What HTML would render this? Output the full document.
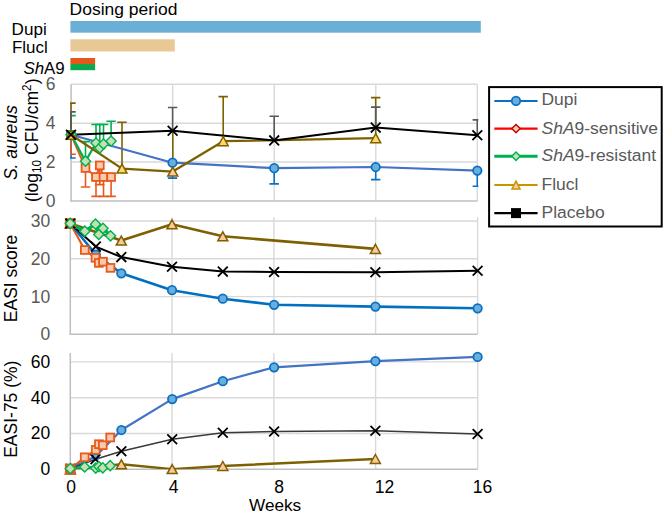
<!DOCTYPE html>
<html><head><meta charset="utf-8"><style>
html,body{margin:0;padding:0;background:#fff;overflow:hidden;}
svg{display:block;}
text{font-family:"Liberation Sans", sans-serif;font-size:17.5px;}
</style></head><body>
<svg width="666" height="517" viewBox="0 0 666 517">
<rect width="666" height="517" fill="#fff"/>
<defs>
<clipPath id="c1"><rect x="70.1" y="64.2" width="408.20000000000005" height="136.7"/></clipPath>
<clipPath id="c2"><rect x="69.3" y="197.2" width="409.3" height="137.0"/></clipPath>
<clipPath id="c3"><rect x="69.3" y="333.0" width="409.4" height="136.2"/></clipPath>
</defs>
<line x1="71.1" y1="84.2" x2="477.3" y2="84.2" stroke="#D9D9D9" stroke-width="1.4"/>
<line x1="71.1" y1="123.2" x2="477.3" y2="123.2" stroke="#D9D9D9" stroke-width="1.4"/>
<line x1="71.1" y1="162.0" x2="477.3" y2="162.0" stroke="#D9D9D9" stroke-width="1.4"/>
<line x1="172.7" y1="84.2" x2="172.7" y2="200.9" stroke="#D9D9D9" stroke-width="1.4"/>
<line x1="274.2" y1="84.2" x2="274.2" y2="200.9" stroke="#D9D9D9" stroke-width="1.4"/>
<line x1="375.8" y1="84.2" x2="375.8" y2="200.9" stroke="#D9D9D9" stroke-width="1.4"/>
<line x1="477.3" y1="84.2" x2="477.3" y2="200.9" stroke="#D9D9D9" stroke-width="1.4"/>
<line x1="71.1" y1="84.2" x2="71.1" y2="201.6" stroke="#BFBFBF" stroke-width="1.5"/>
<line x1="70.39999999999999" y1="200.9" x2="477.3" y2="200.9" stroke="#BFBFBF" stroke-width="1.5"/>
<text x="55.4" y="90.1" text-anchor="end" fill="#595959">6</text>
<text x="55.4" y="129.1" text-anchor="end" fill="#595959">4</text>
<text x="55.4" y="167.9" text-anchor="end" fill="#595959">2</text>
<text x="55.4" y="206.8" text-anchor="end" fill="#595959">0</text>
<line x1="70.3" y1="221.0" x2="477.6" y2="221.0" stroke="#D9D9D9" stroke-width="1.4"/>
<line x1="70.3" y1="258.8" x2="477.6" y2="258.8" stroke="#D9D9D9" stroke-width="1.4"/>
<line x1="70.3" y1="296.6" x2="477.6" y2="296.6" stroke="#D9D9D9" stroke-width="1.4"/>
<line x1="172.0" y1="217.2" x2="172.0" y2="334.2" stroke="#D9D9D9" stroke-width="1.4"/>
<line x1="273.9" y1="217.2" x2="273.9" y2="334.2" stroke="#D9D9D9" stroke-width="1.4"/>
<line x1="375.6" y1="217.2" x2="375.6" y2="334.2" stroke="#D9D9D9" stroke-width="1.4"/>
<line x1="477.6" y1="217.2" x2="477.6" y2="334.2" stroke="#D9D9D9" stroke-width="1.4"/>
<line x1="70.3" y1="217.2" x2="70.3" y2="334.9" stroke="#BFBFBF" stroke-width="1.5"/>
<line x1="69.6" y1="334.2" x2="477.6" y2="334.2" stroke="#BFBFBF" stroke-width="1.5"/>
<text x="50.3" y="226.9" text-anchor="end" fill="#595959">30</text>
<text x="50.3" y="264.7" text-anchor="end" fill="#595959">20</text>
<text x="50.3" y="302.5" text-anchor="end" fill="#595959">10</text>
<text x="50.3" y="340.1" text-anchor="end" fill="#595959">0</text>
<line x1="70.3" y1="361.9" x2="477.7" y2="361.9" stroke="#D9D9D9" stroke-width="1.4"/>
<line x1="70.3" y1="397.7" x2="477.7" y2="397.7" stroke="#D9D9D9" stroke-width="1.4"/>
<line x1="70.3" y1="433.5" x2="477.7" y2="433.5" stroke="#D9D9D9" stroke-width="1.4"/>
<line x1="172.0" y1="353.0" x2="172.0" y2="469.2" stroke="#D9D9D9" stroke-width="1.4"/>
<line x1="273.9" y1="353.0" x2="273.9" y2="469.2" stroke="#D9D9D9" stroke-width="1.4"/>
<line x1="375.6" y1="353.0" x2="375.6" y2="469.2" stroke="#D9D9D9" stroke-width="1.4"/>
<line x1="477.7" y1="353.0" x2="477.7" y2="469.2" stroke="#D9D9D9" stroke-width="1.4"/>
<line x1="70.3" y1="353.0" x2="70.3" y2="469.9" stroke="#BFBFBF" stroke-width="1.5"/>
<line x1="69.6" y1="469.2" x2="477.7" y2="469.2" stroke="#BFBFBF" stroke-width="1.5"/>
<text x="50.3" y="367.8" text-anchor="end" fill="#000">60</text>
<text x="50.3" y="403.6" text-anchor="end" fill="#000">40</text>
<text x="50.3" y="439.4" text-anchor="end" fill="#000">20</text>
<text x="50.3" y="475.1" text-anchor="end" fill="#000">0</text>
<g clip-path="url(#c1)">
<line x1="71.00" y1="134.80" x2="71.00" y2="158.00" stroke="#0A70C4" stroke-width="1.6"/><line x1="66.30" y1="158.00" x2="75.70" y2="158.00" stroke="#0A70C4" stroke-width="1.6"/>
<line x1="172.50" y1="162.70" x2="172.50" y2="178.10" stroke="#0A70C4" stroke-width="1.6"/><line x1="167.80" y1="178.10" x2="177.20" y2="178.10" stroke="#0A70C4" stroke-width="1.6"/>
<line x1="274.20" y1="168.20" x2="274.20" y2="183.90" stroke="#0A70C4" stroke-width="1.6"/><line x1="269.50" y1="183.90" x2="278.90" y2="183.90" stroke="#0A70C4" stroke-width="1.6"/>
<line x1="375.70" y1="167.00" x2="375.70" y2="179.60" stroke="#0A70C4" stroke-width="1.6"/><line x1="371.00" y1="179.60" x2="380.40" y2="179.60" stroke="#0A70C4" stroke-width="1.6"/>
<line x1="477.30" y1="170.60" x2="477.30" y2="186.30" stroke="#0A70C4" stroke-width="1.6"/><line x1="472.60" y1="186.30" x2="482.00" y2="186.30" stroke="#0A70C4" stroke-width="1.6"/>
<line x1="71.10" y1="134.80" x2="71.10" y2="154.20" stroke="#E85A1B" stroke-width="1.6"/><line x1="66.40" y1="154.20" x2="75.80" y2="154.20" stroke="#E85A1B" stroke-width="1.6"/>
<line x1="85.50" y1="168.00" x2="85.50" y2="187.00" stroke="#E85A1B" stroke-width="1.6"/><line x1="80.80" y1="187.00" x2="90.20" y2="187.00" stroke="#E85A1B" stroke-width="1.6"/>
<line x1="96.00" y1="177.00" x2="96.00" y2="196.40" stroke="#E85A1B" stroke-width="1.6"/><line x1="91.30" y1="196.40" x2="100.70" y2="196.40" stroke="#E85A1B" stroke-width="1.6"/>
<line x1="99.80" y1="165.40" x2="99.80" y2="184.60" stroke="#E85A1B" stroke-width="1.6"/><line x1="95.10" y1="184.60" x2="104.50" y2="184.60" stroke="#E85A1B" stroke-width="1.6"/>
<line x1="103.50" y1="177.00" x2="103.50" y2="196.40" stroke="#E85A1B" stroke-width="1.6"/><line x1="98.80" y1="196.40" x2="108.20" y2="196.40" stroke="#E85A1B" stroke-width="1.6"/>
<line x1="111.10" y1="177.00" x2="111.10" y2="196.40" stroke="#E85A1B" stroke-width="1.6"/><line x1="106.40" y1="196.40" x2="115.80" y2="196.40" stroke="#E85A1B" stroke-width="1.6"/>
<line x1="71.10" y1="134.80" x2="71.10" y2="115.60" stroke="#00B050" stroke-width="1.6"/><line x1="66.40" y1="115.60" x2="75.80" y2="115.60" stroke="#00B050" stroke-width="1.6"/>
<line x1="85.50" y1="161.20" x2="85.50" y2="141.60" stroke="#00B050" stroke-width="1.6"/><line x1="80.80" y1="141.60" x2="90.20" y2="141.60" stroke="#00B050" stroke-width="1.6"/>
<line x1="96.00" y1="143.00" x2="96.00" y2="124.50" stroke="#00B050" stroke-width="1.6"/><line x1="91.30" y1="124.50" x2="100.70" y2="124.50" stroke="#00B050" stroke-width="1.6"/>
<line x1="99.80" y1="147.90" x2="99.80" y2="124.50" stroke="#00B050" stroke-width="1.6"/><line x1="95.10" y1="124.50" x2="104.50" y2="124.50" stroke="#00B050" stroke-width="1.6"/>
<line x1="103.50" y1="144.00" x2="103.50" y2="124.50" stroke="#00B050" stroke-width="1.6"/><line x1="98.80" y1="124.50" x2="108.20" y2="124.50" stroke="#00B050" stroke-width="1.6"/>
<line x1="111.10" y1="141.10" x2="111.10" y2="121.20" stroke="#00B050" stroke-width="1.6"/><line x1="106.40" y1="121.20" x2="115.80" y2="121.20" stroke="#00B050" stroke-width="1.6"/>
<line x1="71.00" y1="134.80" x2="71.00" y2="103.10" stroke="#7F6000" stroke-width="1.6"/><line x1="66.30" y1="103.10" x2="75.70" y2="103.10" stroke="#7F6000" stroke-width="1.6"/>
<line x1="122.00" y1="168.60" x2="122.00" y2="122.30" stroke="#7F6000" stroke-width="1.6"/><line x1="117.30" y1="122.30" x2="126.70" y2="122.30" stroke="#7F6000" stroke-width="1.6"/>
<line x1="172.80" y1="171.60" x2="172.80" y2="131.00" stroke="#7F6000" stroke-width="1.6"/><line x1="168.10" y1="131.00" x2="177.50" y2="131.00" stroke="#7F6000" stroke-width="1.6"/>
<line x1="223.20" y1="141.20" x2="223.20" y2="96.60" stroke="#7F6000" stroke-width="1.6"/><line x1="218.50" y1="96.60" x2="227.90" y2="96.60" stroke="#7F6000" stroke-width="1.6"/>
<line x1="375.70" y1="138.20" x2="375.70" y2="97.60" stroke="#7F6000" stroke-width="1.6"/><line x1="371.00" y1="97.60" x2="380.40" y2="97.60" stroke="#7F6000" stroke-width="1.6"/>
<line x1="71.00" y1="134.80" x2="71.00" y2="111.90" stroke="#595959" stroke-width="1.6"/><line x1="66.30" y1="111.90" x2="75.70" y2="111.90" stroke="#595959" stroke-width="1.6"/>
<line x1="172.60" y1="130.70" x2="172.60" y2="107.50" stroke="#595959" stroke-width="1.6"/><line x1="167.90" y1="107.50" x2="177.30" y2="107.50" stroke="#595959" stroke-width="1.6"/>
<line x1="274.20" y1="140.40" x2="274.20" y2="116.30" stroke="#595959" stroke-width="1.6"/><line x1="269.50" y1="116.30" x2="278.90" y2="116.30" stroke="#595959" stroke-width="1.6"/>
<line x1="375.70" y1="127.60" x2="375.70" y2="107.10" stroke="#595959" stroke-width="1.6"/><line x1="371.00" y1="107.10" x2="380.40" y2="107.10" stroke="#595959" stroke-width="1.6"/>
<line x1="477.30" y1="135.30" x2="477.30" y2="119.90" stroke="#595959" stroke-width="1.6"/><line x1="472.60" y1="119.90" x2="482.00" y2="119.90" stroke="#595959" stroke-width="1.6"/>
<path d="M71.10 134.80L85.50 168.00L96.00 177.00L99.80 165.40L103.50 177.00L111.10 177.00" fill="none" stroke="#E85A1B" stroke-width="2" stroke-linejoin="round"/>
<path d="M71.00 134.80L172.50 162.70L274.20 168.20L375.70 167.00L477.30 170.60" fill="none" stroke="#4472C4" stroke-width="2.2" stroke-linejoin="round"/>
<path d="M71.10 134.80L85.50 161.20L96.00 143.00L99.80 147.90L103.50 144.00L111.10 141.10" fill="none" stroke="#00B050" stroke-width="2.3" stroke-linejoin="round"/>
<path d="M71.00 134.80L122.00 168.60L172.80 171.60L223.20 141.20L375.70 138.20" fill="none" stroke="#7F6000" stroke-width="2.3" stroke-linejoin="round"/>
<path d="M71.00 134.80L172.60 130.70L274.20 140.40L375.70 127.60L477.30 135.30" fill="none" stroke="#000" stroke-width="2" stroke-linejoin="round"/>
</g>
<rect x="81.60" y="164.10" width="7.80" height="7.80" fill="#F8CBAD" stroke="#E85A1B" stroke-width="1.8"/>
<rect x="92.10" y="173.10" width="7.80" height="7.80" fill="#F8CBAD" stroke="#E85A1B" stroke-width="1.8"/>
<rect x="95.90" y="161.50" width="7.80" height="7.80" fill="#F8CBAD" stroke="#E85A1B" stroke-width="1.8"/>
<rect x="99.60" y="173.10" width="7.80" height="7.80" fill="#F8CBAD" stroke="#E85A1B" stroke-width="1.8"/>
<rect x="107.20" y="173.10" width="7.80" height="7.80" fill="#F8CBAD" stroke="#E85A1B" stroke-width="1.8"/>
<rect x="67.20" y="130.90" width="7.80" height="7.80" fill="#F8CBAD" stroke="#E85A1B" stroke-width="1.8"/>
<circle cx="71.0" cy="134.8" r="4.25" fill="#6AAEDB" stroke="#0A70C4" stroke-width="1.75"/>
<circle cx="172.5" cy="162.7" r="4.25" fill="#6AAEDB" stroke="#0A70C4" stroke-width="1.75"/>
<circle cx="274.2" cy="168.2" r="4.25" fill="#6AAEDB" stroke="#0A70C4" stroke-width="1.75"/>
<circle cx="375.7" cy="167.0" r="4.25" fill="#6AAEDB" stroke="#0A70C4" stroke-width="1.75"/>
<circle cx="477.3" cy="170.6" r="4.25" fill="#6AAEDB" stroke="#0A70C4" stroke-width="1.75"/>
<path d="M71.10 129.70L76.20 134.80L71.10 139.90L66.00 134.80Z" fill="#C5E0B4" stroke="#00B050" stroke-width="1.4"/>
<path d="M85.50 156.10L90.60 161.20L85.50 166.30L80.40 161.20Z" fill="#C5E0B4" stroke="#00B050" stroke-width="1.4"/>
<path d="M96.00 137.90L101.10 143.00L96.00 148.10L90.90 143.00Z" fill="#C5E0B4" stroke="#00B050" stroke-width="1.4"/>
<path d="M99.80 142.80L104.90 147.90L99.80 153.00L94.70 147.90Z" fill="#C5E0B4" stroke="#00B050" stroke-width="1.4"/>
<path d="M103.50 138.90L108.60 144.00L103.50 149.10L98.40 144.00Z" fill="#C5E0B4" stroke="#00B050" stroke-width="1.4"/>
<path d="M111.10 136.00L116.20 141.10L111.10 146.20L106.00 141.10Z" fill="#C5E0B4" stroke="#00B050" stroke-width="1.4"/>
<path d="M71.00 130.30L76.00 139.30L66.00 139.30Z" fill="#FFD966" stroke="#7F6000" stroke-width="1.5" stroke-linejoin="miter"/>
<path d="M122.00 164.10L127.00 173.10L117.00 173.10Z" fill="#FFD966" stroke="#7F6000" stroke-width="1.5" stroke-linejoin="miter"/>
<path d="M172.80 167.10L177.80 176.10L167.80 176.10Z" fill="#F9C99C" stroke="#7F6000" stroke-width="1.5" stroke-linejoin="miter"/>
<path d="M223.20 136.70L228.20 145.70L218.20 145.70Z" fill="#FFD966" stroke="#7F6000" stroke-width="1.5" stroke-linejoin="miter"/>
<path d="M375.70 133.70L380.70 142.70L370.70 142.70Z" fill="#FFD966" stroke="#7F6000" stroke-width="1.5" stroke-linejoin="miter"/>
<path d="M66.10 129.90L75.90 139.70M66.10 139.70L75.90 129.90" stroke="#000" stroke-width="1.8" fill="none"/>
<path d="M167.70 125.80L177.50 135.60M167.70 135.60L177.50 125.80" stroke="#000" stroke-width="1.8" fill="none"/>
<path d="M269.30 135.50L279.10 145.30M269.30 145.30L279.10 135.50" stroke="#000" stroke-width="1.8" fill="none"/>
<path d="M370.80 122.70L380.60 132.50M370.80 132.50L380.60 122.70" stroke="#000" stroke-width="1.8" fill="none"/>
<path d="M472.40 130.40L482.20 140.20M472.40 140.20L482.20 130.40" stroke="#000" stroke-width="1.8" fill="none"/>
<g clip-path="url(#c2)">
<path d="M70.30 223.50L84.80 250.00L95.50 257.80L98.80 262.90L103.00 261.70L110.50 267.90" fill="none" stroke="#E85A1B" stroke-width="2.2" stroke-linejoin="round"/>
<path d="M70.30 223.50L95.80 254.50L121.30 273.30L172.00 290.20L222.80 298.70L274.10 304.80L375.40 306.60L477.60 308.30" fill="none" stroke="#0070C0" stroke-width="2.6" stroke-linejoin="round"/>
<path d="M70.30 223.50L95.80 246.60L121.30 257.10L172.00 266.80L222.80 271.60L274.10 272.00L375.40 272.30L477.60 270.70" fill="none" stroke="#000" stroke-width="2" stroke-linejoin="round"/>
<path d="M70.30 223.50L121.30 240.60L172.00 224.30L222.80 236.30L375.40 248.90" fill="none" stroke="#7F6000" stroke-width="2.6" stroke-linejoin="round"/>
<path d="M70.30 223.50L84.80 231.20L95.50 224.20L98.80 234.50L103.00 228.30L110.50 235.80" fill="none" stroke="#00B050" stroke-width="3.4" stroke-linejoin="round"/>
</g>
<circle cx="70.3" cy="223.5" r="4.25" fill="#6AAEDB" stroke="#0A70C4" stroke-width="1.75"/>
<circle cx="95.8" cy="254.5" r="4.25" fill="#6AAEDB" stroke="#0A70C4" stroke-width="1.75"/>
<circle cx="121.3" cy="273.3" r="4.25" fill="#6AAEDB" stroke="#0A70C4" stroke-width="1.75"/>
<circle cx="172.0" cy="290.2" r="4.25" fill="#6AAEDB" stroke="#0A70C4" stroke-width="1.75"/>
<circle cx="222.8" cy="298.7" r="4.25" fill="#6AAEDB" stroke="#0A70C4" stroke-width="1.75"/>
<circle cx="274.1" cy="304.8" r="4.25" fill="#6AAEDB" stroke="#0A70C4" stroke-width="1.75"/>
<circle cx="375.4" cy="306.6" r="4.25" fill="#6AAEDB" stroke="#0A70C4" stroke-width="1.75"/>
<circle cx="477.6" cy="308.3" r="4.25" fill="#6AAEDB" stroke="#0A70C4" stroke-width="1.75"/>
<path d="M70.30 219.00L75.30 228.00L65.30 228.00Z" fill="#F9C99C" stroke="#7F6000" stroke-width="1.5" stroke-linejoin="miter"/>
<path d="M121.30 236.10L126.30 245.10L116.30 245.10Z" fill="#F9C99C" stroke="#7F6000" stroke-width="1.5" stroke-linejoin="miter"/>
<path d="M172.00 219.80L177.00 228.80L167.00 228.80Z" fill="#F9C99C" stroke="#7F6000" stroke-width="1.5" stroke-linejoin="miter"/>
<path d="M222.80 231.80L227.80 240.80L217.80 240.80Z" fill="#F9C99C" stroke="#7F6000" stroke-width="1.5" stroke-linejoin="miter"/>
<path d="M375.40 244.40L380.40 253.40L370.40 253.40Z" fill="#F9C99C" stroke="#7F6000" stroke-width="1.5" stroke-linejoin="miter"/>
<rect x="65.80" y="219.10" width="9.00" height="9.00" fill="#E85A1B" stroke="#E85A1B" stroke-width="1.8"/>
<rect x="80.90" y="246.10" width="7.80" height="7.80" fill="#F8CBAD" stroke="#E85A1B" stroke-width="1.8"/>
<rect x="91.60" y="253.90" width="7.80" height="7.80" fill="#F8CBAD" stroke="#E85A1B" stroke-width="1.8"/>
<rect x="94.90" y="259.00" width="7.80" height="7.80" fill="#F8CBAD" stroke="#E85A1B" stroke-width="1.8"/>
<rect x="99.10" y="257.80" width="7.80" height="7.80" fill="#F8CBAD" stroke="#E85A1B" stroke-width="1.8"/>
<rect x="106.60" y="264.00" width="7.80" height="7.80" fill="#F8CBAD" stroke="#E85A1B" stroke-width="1.8"/>
<path d="M65.40 218.60L75.20 228.40M65.40 228.40L75.20 218.60" stroke="#000" stroke-width="1.8" fill="none"/>
<path d="M90.90 241.70L100.70 251.50M90.90 251.50L100.70 241.70" stroke="#000" stroke-width="1.8" fill="none"/>
<path d="M116.40 252.20L126.20 262.00M116.40 262.00L126.20 252.20" stroke="#000" stroke-width="1.8" fill="none"/>
<path d="M167.10 261.90L176.90 271.70M167.10 271.70L176.90 261.90" stroke="#000" stroke-width="1.8" fill="none"/>
<path d="M217.90 266.70L227.70 276.50M217.90 276.50L227.70 266.70" stroke="#000" stroke-width="1.8" fill="none"/>
<path d="M269.20 267.10L279.00 276.90M269.20 276.90L279.00 267.10" stroke="#000" stroke-width="1.8" fill="none"/>
<path d="M370.50 267.40L380.30 277.20M370.50 277.20L380.30 267.40" stroke="#000" stroke-width="1.8" fill="none"/>
<path d="M472.70 265.80L482.50 275.60M472.70 275.60L482.50 265.80" stroke="#000" stroke-width="1.8" fill="none"/>
<path d="M70.30 218.40L75.40 223.50L70.30 228.60L65.20 223.50Z" fill="#C5E0B4" stroke="#00B050" stroke-width="1.4"/>
<path d="M84.80 226.10L89.90 231.20L84.80 236.30L79.70 231.20Z" fill="#C5E0B4" stroke="#00B050" stroke-width="1.4"/>
<path d="M95.50 219.10L100.60 224.20L95.50 229.30L90.40 224.20Z" fill="#C5E0B4" stroke="#00B050" stroke-width="1.4"/>
<path d="M98.80 229.40L103.90 234.50L98.80 239.60L93.70 234.50Z" fill="#C5E0B4" stroke="#00B050" stroke-width="1.4"/>
<path d="M103.00 223.20L108.10 228.30L103.00 233.40L97.90 228.30Z" fill="#C5E0B4" stroke="#00B050" stroke-width="1.4"/>
<path d="M110.50 230.70L115.60 235.80L110.50 240.90L105.40 235.80Z" fill="#C5E0B4" stroke="#00B050" stroke-width="1.4"/>
<g clip-path="url(#c3)">
<path d="M70.30 469.20L84.70 457.30L95.70 449.90L98.90 444.20L102.80 445.20L110.20 437.50" fill="none" stroke="#E85A1B" stroke-width="2.2" stroke-linejoin="round"/>
<path d="M70.40 468.60L95.50 456.60L121.40 430.00L172.20 399.10L222.80 381.20L274.10 367.30L375.40 361.20L477.60 356.90" fill="none" stroke="#4472C4" stroke-width="2.2" stroke-linejoin="round"/>
<path d="M70.40 468.80L95.50 459.30L121.40 451.20L172.20 439.30L222.80 432.80L274.10 431.50L375.40 430.80L477.60 434.00" fill="none" stroke="#3A3A3A" stroke-width="1.6" stroke-linejoin="round"/>
<path d="M70.40 469.60L121.40 464.30L172.20 469.10L222.80 466.00L375.40 459.00" fill="none" stroke="#7F6000" stroke-width="2.4" stroke-linejoin="round"/>
<path d="M70.30 468.60L84.70 467.00L95.70 468.10L98.90 466.60L102.80 467.80L110.20 465.70" fill="none" stroke="#00B050" stroke-width="2.4" stroke-linejoin="round"/>
</g>
<circle cx="70.4" cy="468.6" r="4.25" fill="#6AAEDB" stroke="#0A70C4" stroke-width="1.75"/>
<circle cx="95.5" cy="456.6" r="3.0" fill="#6AAEDB" stroke="#0A70C4" stroke-width="1.75"/>
<circle cx="121.4" cy="430.0" r="4.25" fill="#6AAEDB" stroke="#0A70C4" stroke-width="1.75"/>
<circle cx="172.2" cy="399.1" r="4.25" fill="#6AAEDB" stroke="#0A70C4" stroke-width="1.75"/>
<circle cx="222.8" cy="381.2" r="4.25" fill="#6AAEDB" stroke="#0A70C4" stroke-width="1.75"/>
<circle cx="274.1" cy="367.3" r="4.25" fill="#6AAEDB" stroke="#0A70C4" stroke-width="1.75"/>
<circle cx="375.4" cy="361.2" r="4.25" fill="#6AAEDB" stroke="#0A70C4" stroke-width="1.75"/>
<circle cx="477.6" cy="356.9" r="4.25" fill="#6AAEDB" stroke="#0A70C4" stroke-width="1.75"/>
<path d="M65.50 463.90L75.30 473.70M65.50 473.70L75.30 463.90" stroke="#000" stroke-width="1.8" fill="none"/>
<path d="M90.60 454.40L100.40 464.20M90.60 464.20L100.40 454.40" stroke="#000" stroke-width="1.8" fill="none"/>
<path d="M116.50 446.30L126.30 456.10M116.50 456.10L126.30 446.30" stroke="#000" stroke-width="1.8" fill="none"/>
<path d="M167.30 434.40L177.10 444.20M167.30 444.20L177.10 434.40" stroke="#000" stroke-width="1.8" fill="none"/>
<path d="M217.90 427.90L227.70 437.70M217.90 437.70L227.70 427.90" stroke="#000" stroke-width="1.8" fill="none"/>
<path d="M269.20 426.60L279.00 436.40M269.20 436.40L279.00 426.60" stroke="#000" stroke-width="1.8" fill="none"/>
<path d="M370.50 425.90L380.30 435.70M370.50 435.70L380.30 425.90" stroke="#000" stroke-width="1.8" fill="none"/>
<path d="M472.70 429.10L482.50 438.90M472.70 438.90L482.50 429.10" stroke="#000" stroke-width="1.8" fill="none"/>
<path d="M70.40 465.10L75.40 474.10L65.40 474.10Z" fill="#F9C99C" stroke="#7F6000" stroke-width="1.5" stroke-linejoin="miter"/>
<path d="M121.40 459.80L126.40 468.80L116.40 468.80Z" fill="#F9C99C" stroke="#7F6000" stroke-width="1.5" stroke-linejoin="miter"/>
<path d="M172.20 464.60L177.20 473.60L167.20 473.60Z" fill="#F9C99C" stroke="#7F6000" stroke-width="1.5" stroke-linejoin="miter"/>
<path d="M222.80 461.50L227.80 470.50L217.80 470.50Z" fill="#F9C99C" stroke="#7F6000" stroke-width="1.5" stroke-linejoin="miter"/>
<path d="M375.40 454.50L380.40 463.50L370.40 463.50Z" fill="#F9C99C" stroke="#7F6000" stroke-width="1.5" stroke-linejoin="miter"/>
<rect x="80.80" y="453.40" width="7.80" height="7.80" fill="#F8CBAD" stroke="#E85A1B" stroke-width="1.8"/>
<rect x="91.80" y="446.00" width="7.80" height="7.80" fill="#F8CBAD" stroke="#E85A1B" stroke-width="1.8"/>
<rect x="95.00" y="440.30" width="7.80" height="7.80" fill="#F8CBAD" stroke="#E85A1B" stroke-width="1.8"/>
<rect x="98.90" y="441.30" width="7.80" height="7.80" fill="#F8CBAD" stroke="#E85A1B" stroke-width="1.8"/>
<rect x="106.30" y="433.60" width="7.80" height="7.80" fill="#F8CBAD" stroke="#E85A1B" stroke-width="1.8"/>
<rect x="65.80" y="464.55" width="9.00" height="9.00" fill="#E85A1B" stroke="#E85A1B" stroke-width="1.8"/>
<path d="M70.30 463.50L75.40 468.60L70.30 473.70L65.20 468.60Z" fill="#C5E0B4" stroke="#00B050" stroke-width="1.4"/>
<path d="M84.70 461.90L89.80 467.00L84.70 472.10L79.60 467.00Z" fill="#C5E0B4" stroke="#00B050" stroke-width="1.4"/>
<path d="M95.70 463.00L100.80 468.10L95.70 473.20L90.60 468.10Z" fill="#C5E0B4" stroke="#00B050" stroke-width="1.4"/>
<path d="M98.90 461.50L104.00 466.60L98.90 471.70L93.80 466.60Z" fill="#C5E0B4" stroke="#00B050" stroke-width="1.4"/>
<path d="M102.80 462.70L107.90 467.80L102.80 472.90L97.70 467.80Z" fill="#C5E0B4" stroke="#00B050" stroke-width="1.4"/>
<path d="M110.20 460.60L115.30 465.70L110.20 470.80L105.10 465.70Z" fill="#C5E0B4" stroke="#00B050" stroke-width="1.4"/>
<rect x="70.4" y="21" width="410.4" height="11.7" fill="#6BAED6"/>
<rect x="70.4" y="39.3" width="104.4" height="12.2" fill="#E8C995"/>
<rect x="70.4" y="58" width="24.7" height="6" fill="#E8561A"/>
<rect x="70.4" y="64" width="24.7" height="6.2" fill="#0BAA4E"/>
<text transform="translate(69.6 15.1) scale(1 0.93)" text-anchor="start" fill="#000" >Dosing period</text>
<text transform="translate(11.6 34.7) scale(1 0.93)" text-anchor="start" fill="#000" style="font-size:17.1px">Dupi</text>
<text transform="translate(11.9 52.8) scale(1 0.93)" text-anchor="start" fill="#000" style="font-size:17.0px">Flucl</text>
<text transform="translate(23.4 73.7) scale(1 1.0)" text-anchor="start" fill="#000" style="font-size:16.9px"><tspan font-style="italic">Sh</tspan>A9</text>
<text x="71.2" y="493.2" text-anchor="middle" fill="#000">0</text>
<text x="173.5" y="493.2" text-anchor="middle" fill="#000">4</text>
<text x="279" y="493.2" text-anchor="middle" fill="#000">8</text>
<text x="384.5" y="493.2" text-anchor="middle" fill="#000">12</text>
<text x="482.4" y="493.2" text-anchor="middle" fill="#000">16</text>
<text transform="translate(275.1 511.3) scale(1 0.96)" text-anchor="middle" fill="#000" style="font-size:17.2px">Weeks</text>
<text transform="translate(17.2 142.7) rotate(-90) scale(1 1.03)" text-anchor="middle" fill="#000" style="font-style:italic">S. aureus</text>
<text transform="translate(37.6 140.3) rotate(-90) scale(1 1.02)" text-anchor="middle" fill="#000" >(log<tspan font-size="11.8" dy="3.3">10</tspan><tspan dy="-3.3"> CFU/cm</tspan><tspan font-size="11.8" dy="-6.2">2</tspan><tspan dy="6.2">)</tspan></text>
<text transform="translate(17.3 278.4) rotate(-90) scale(1 1.06)" text-anchor="middle" fill="#000" >EASI score</text>
<text transform="translate(17.0 409.2) rotate(-90) scale(1 1.0)" text-anchor="middle" fill="#000" >EASI-75 (%)</text>
<rect x="489.1" y="87.1" width="172.6" height="139.4" fill="#fff" stroke="#000" stroke-width="2"/>
<line x1="494.3" y1="100.9" x2="537.6" y2="100.9" stroke="#0A70C4" stroke-width="2"/>
<circle cx="516.0" cy="100.9" r="4.25" fill="#6AAEDB" stroke="#0A70C4" stroke-width="1.75"/>
<line x1="494.3" y1="128.6" x2="537.6" y2="128.6" stroke="#FF0000" stroke-width="2.2"/>
<path d="M516.00 124.40L520.20 128.60L516.00 132.80L511.80 128.60Z" fill="#F8CBAD" stroke="#C00000" stroke-width="1.4"/>
<line x1="494.3" y1="156.3" x2="537.6" y2="156.3" stroke="#00B050" stroke-width="3"/>
<path d="M516.00 152.10L520.20 156.30L516.00 160.50L511.80 156.30Z" fill="#C5E0B4" stroke="#00B050" stroke-width="1.4"/>
<line x1="494.3" y1="184.9" x2="537.6" y2="184.9" stroke="#C79500" stroke-width="2"/>
<path d="M516.00 181.20L520.00 189.00L512.00 189.00Z" fill="#F8CBAD" stroke="#C79500" stroke-width="1.5" stroke-linejoin="miter"/>
<line x1="494.3" y1="213.1" x2="537.6" y2="213.1" stroke="#000" stroke-width="2.2"/>
<rect x="511.0" y="208.1" width="10" height="10" fill="#000"/>
<text transform="translate(541.5 105.4) scale(1 0.93)" text-anchor="start" fill="#595959" >Dupi</text>
<text transform="translate(541.5 133.6) scale(1 0.93)" text-anchor="start" fill="#595959" ><tspan font-style="italic">ShA</tspan>9-sensitive</text>
<text transform="translate(541.5 161.3) scale(1 0.93)" text-anchor="start" fill="#595959" ><tspan font-style="italic">ShA</tspan>9-resistant</text>
<text transform="translate(541.5 189.9) scale(1 0.93)" text-anchor="start" fill="#595959" >Flucl</text>
<text transform="translate(541.5 218.1) scale(1 0.93)" text-anchor="start" fill="#595959" >Placebo</text>
</svg>
</body></html>
